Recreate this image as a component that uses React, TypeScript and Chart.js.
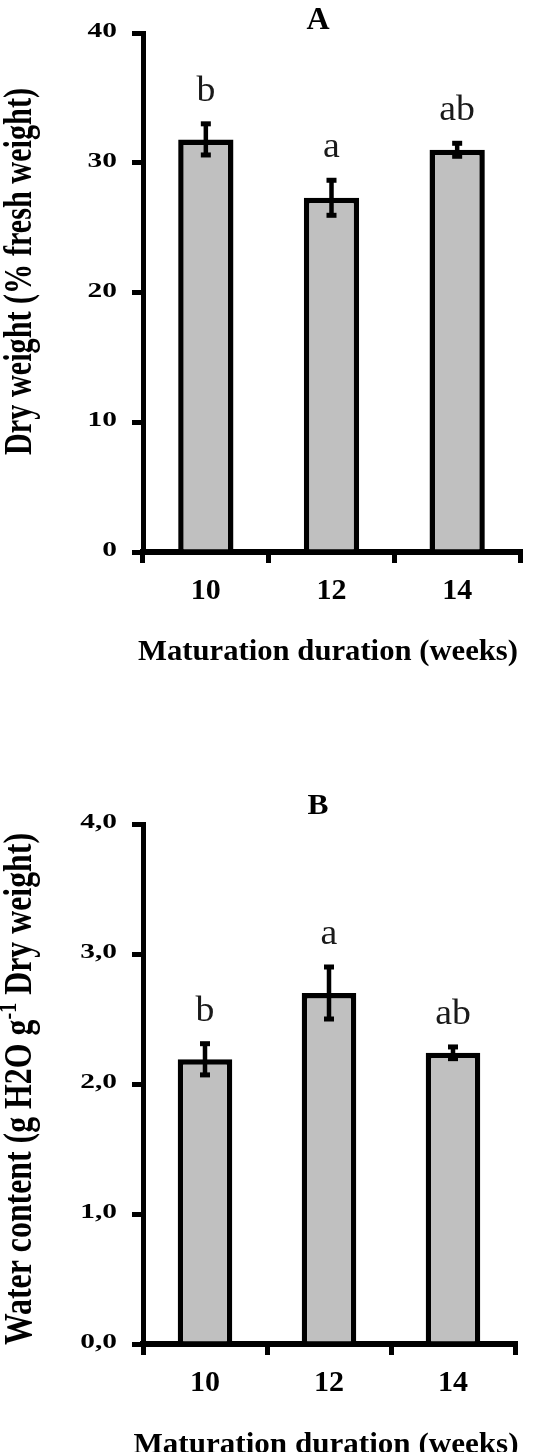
import React, { useEffect, useRef } from "react";
import { Chart, registerables } from "chart.js";

Chart.register(...registerables);

// ---------- data ----------
const categories = ["10", "12", "14"];

const dryWeight = [31.8, 27.3, 31.0];
const dryWeightErr = [1.2, 1.35, 0.5];
const dryWeightLetters = ["b", "a", "ab"];
const dryWeightTicks = [0, 10, 20, 30, 40];
const dryWeightTickLabels = ["0", "10", "20", "30", "40"];

const waterContent = [2.19, 2.7, 2.24];
const waterContentErr = [0.12, 0.2, 0.045];
const waterContentLetters = ["b", "a", "ab"];
const waterTicks = [0, 1, 2, 3, 4];
const waterTickLabels = ["0,0", "1,0", "2,0", "3,0", "4,0"];

const xTitle = "Maturation duration (weeks)";

type Seg = { text: string; sup?: boolean };

const SERIF = '"Liberation Serif", "Times New Roman", Times, serif';

interface PanelCfg {
  title: string;
  titleX: number;
  titleY: number;
  titleSize: number;
  titleSx: number;
  values: number[];
  errors: number[];
  letters: string[];
  ticks: number[];
  tickLabels: string[];
  padding: { left: number; top: number; right: number; bottom: number };
  yTitle: Seg[];
  yTitleCy: number;
  yTitleLen: number;
  xTitleCx: number;
  xTitleY: number;
  xTitleLen: number;
}

const W = 555;
const H = 726;

function drawText(
  ctx: CanvasRenderingContext2D,
  text: string,
  x: number,
  y: number,
  font: string,
  align: CanvasTextAlign,
  sx: number,
  color = "#000"
) {
  ctx.save();
  ctx.font = font;
  ctx.fillStyle = color;
  ctx.textAlign = align;
  ctx.textBaseline = "alphabetic";
  ctx.translate(x, y);
  ctx.scale(sx, 1);
  ctx.fillText(text, 0, 0);
  ctx.restore();
}

function drawFitted(
  ctx: CanvasRenderingContext2D,
  text: string,
  cx: number,
  y: number,
  font: string,
  targetLen: number
) {
  ctx.save();
  ctx.font = font;
  ctx.fillStyle = "#000";
  ctx.textAlign = "left";
  ctx.textBaseline = "alphabetic";
  const w = ctx.measureText(text).width;
  ctx.translate(cx - targetLen / 2, y);
  ctx.scale(targetLen / w, 1);
  ctx.fillText(text, 0, 0);
  ctx.restore();
}

function drawRotatedTitle(
  ctx: CanvasRenderingContext2D,
  segs: Seg[],
  baselineX: number,
  cy: number,
  size: number,
  targetLen: number,
  across: number
) {
  const font = `bold ${size}px ${SERIF}`;
  const supFont = `bold ${Math.round(size * 0.62)}px ${SERIF}`;
  ctx.save();
  ctx.fillStyle = "#000";
  ctx.textAlign = "left";
  ctx.textBaseline = "alphabetic";
  let total = 0;
  const widths = segs.map((s) => {
    ctx.font = s.sup ? supFont : font;
    const w = ctx.measureText(s.text).width;
    total += w;
    return w;
  });
  ctx.translate(baselineX, cy);
  ctx.rotate(-Math.PI / 2);
  ctx.scale(targetLen / total, across);
  let x = -total / 2;
  segs.forEach((s, i) => {
    ctx.font = s.sup ? supFont : font;
    ctx.fillText(s.text, x, s.sup ? -size * 0.38 : 0);
    x += widths[i];
  });
  ctx.restore();
}

function makePlugin(cfg: PanelCfg) {
  return {
    id: "panelDecor" + cfg.title,
    afterDatasetsDraw(chart: any) {
      const ctx: CanvasRenderingContext2D = chart.ctx;
      const xs = chart.scales.x;
      const ys = chart.scales.y;
      ctx.save();
      ctx.fillStyle = "#000";
      cfg.values.forEach((v, i) => {
        const cx = xs.getPixelForValue(i);
        const yTop = ys.getPixelForValue(v + cfg.errors[i]);
        const yBot = ys.getPixelForValue(v - cfg.errors[i]);
        ctx.fillRect(cx - 2.25, yTop, 4.5, yBot - yTop);
        ctx.fillRect(cx - 5, yTop - 2.5, 10, 5);
        ctx.fillRect(cx - 5, yBot - 2.5, 10, 5);
      });
      ctx.restore();
    },
    afterDraw(chart: any) {
      const ctx: CanvasRenderingContext2D = chart.ctx;
      const xs = chart.scales.x;
      const ys = chart.scales.y;
      const area = chart.chartArea;
      // panel title
      drawText(ctx, cfg.title, cfg.titleX, cfg.titleY, `bold ${cfg.titleSize}px ${SERIF}`, "center", cfg.titleSx);
      // y tick labels
      ys.ticks.forEach((t: any, i: number) => {
        const py = ys.getPixelForValue(t.value);
        drawText(ctx, cfg.tickLabels[i], area.left - 26, py + 4, `bold 21px ${SERIF}`, "right", 1.4);
      });
      // x tick labels
      categories.forEach((c, i) => {
        const px = xs.getPixelForValue(i);
        drawText(ctx, c, px, area.bottom + 47, `bold 30px ${SERIF}`, "center", 1.0);
      });
      // significance letters
      cfg.values.forEach((v, i) => {
        const px = xs.getPixelForValue(i);
        const py = ys.getPixelForValue(v + cfg.errors[i]);
        drawText(ctx, cfg.letters[i], px, py - 23, `36px ${SERIF}`, "center", 1.05, "#1a1a1a");
      });
      // axis titles
      drawFitted(ctx, xTitle, cfg.xTitleCx, cfg.xTitleY, `bold 30px ${SERIF}`, cfg.xTitleLen);
      drawRotatedTitle(ctx, cfg.yTitle, 31, cfg.yTitleCy, 30, cfg.yTitleLen, 1.3);
    },
  };
}

function makeChart(canvas: HTMLCanvasElement, cfg: PanelCfg) {
  return new Chart(canvas, {
    type: "bar",
    data: {
      labels: categories,
      datasets: [
        {
          data: cfg.values,
          backgroundColor: "#c0c0c0",
          borderColor: "#000",
          borderWidth: 5.5,
          borderSkipped: "bottom",
          barPercentage: 0.44,
          categoryPercentage: 1,
        },
      ],
    },
    options: {
      responsive: false,
      maintainAspectRatio: false,
      animation: false,
      devicePixelRatio: 1,
      events: [],
      layout: { padding: cfg.padding, autoPadding: false },
      plugins: {
        legend: { display: false },
        title: { display: false },
        tooltip: { enabled: false },
      },
      scales: {
        x: {
          type: "category",
          offset: true,
          z: 1,
          grid: {
            display: true,
            offset: true,
            drawOnChartArea: false,
            drawTicks: true,
            tickLength: 11,
            lineWidth: 5,
            color: "#000",
          },
          border: { display: true, width: 6, color: "#000" },
          ticks: { display: false },
          afterFit: (s: any) => {
            s.height = 0;
          },
        },
        y: {
          type: "linear",
          min: cfg.ticks[0],
          max: cfg.ticks[cfg.ticks.length - 1],
          z: 1,
          grid: {
            display: true,
            drawOnChartArea: false,
            drawTicks: true,
            tickLength: 11,
            lineWidth: 5,
            color: "#000",
          },
          border: { display: true, width: 5, color: "#000" },
          ticks: { display: false },
          afterBuildTicks: (s: any) => {
            s.ticks = cfg.ticks.map((v) => ({ value: v }));
          },
          afterFit: (s: any) => {
            s.width = 0;
          },
        },
      },
    } as any,
    plugins: [makePlugin(cfg)],
  });
}

const panelA: PanelCfg = {
  title: "A",
  titleX: 318,
  titleY: 28.5,
  titleSize: 32,
  titleSx: 1.0,
  values: dryWeight,
  errors: dryWeightErr,
  letters: dryWeightLetters,
  ticks: dryWeightTicks,
  tickLabels: dryWeightTickLabels,
  padding: { left: 143, top: 33, right: 35, bottom: 174 },
  yTitle: [{ text: "Dry weight (% fresh weight)" }],
  yTitleCy: 271.5,
  yTitleLen: 367,
  xTitleCx: 328,
  xTitleY: 660,
  xTitleLen: 380,
};

const panelB: PanelCfg = {
  title: "B",
  titleX: 318,
  titleY: 87.5,
  titleSize: 30,
  titleSx: 1.05,
  values: waterContent,
  errors: waterContentErr,
  letters: waterContentLetters,
  ticks: waterTicks,
  tickLabels: waterTickLabels,
  padding: { left: 143, top: 98, right: 40, bottom: 108 },
  yTitle: [
    { text: "Water content (g H2O g" },
    { text: "-1", sup: true },
    { text: " Dry weight)" },
  ],
  yTitleCy: 363,
  yTitleLen: 512,
  xTitleCx: 326,
  xTitleY: 727,
  xTitleLen: 385,
};

function Panel({ cfg }: { cfg: PanelCfg }) {
  const ref = useRef<HTMLCanvasElement | null>(null);
  useEffect(() => {
    if (!ref.current) return;
    const chart = makeChart(ref.current, cfg);
    let alive = true;
    if ((document as any).fonts && (document as any).fonts.load) {
      Promise.all([
        (document as any).fonts.load(`bold 30px ${SERIF}`),
        (document as any).fonts.load(`36px ${SERIF}`),
      ])
        .then(() => {
          if (alive) chart.update();
        })
        .catch(() => {});
    }
    return () => {
      alive = false;
      chart.destroy();
    };
  }, [cfg]);
  return <canvas ref={ref} width={W} height={H} style={{ display: "block", width: W, height: H }} />;
}

export default function App() {
  return (
    <div style={{ position: "absolute", left: 0, top: 0, width: W, height: H * 2, background: "#fff" }}>
      <Panel cfg={panelA} />
      <Panel cfg={panelB} />
    </div>
  );
}
